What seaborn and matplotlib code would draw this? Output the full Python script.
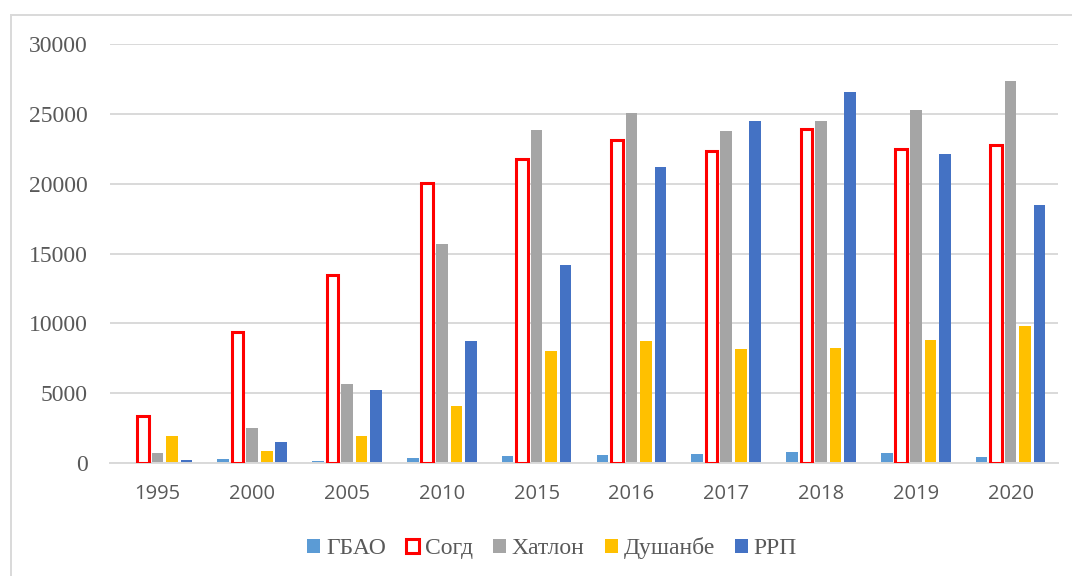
import pandas as pd
import matplotlib
matplotlib.use("Agg")
import matplotlib.pyplot as plt
import seaborn as sns
from matplotlib.patches import Rectangle

# DATA
years = ["1995", "2000", "2005", "2010", "2015", "2016", "2017", "2018", "2019", "2020"]
regions = ["ГБАО", "Согд", "Хатлон", "Душанбе", "РРП"]
gbao = [0, 310, 170, 360, 480, 570, 670, 790, 715, 430]
sogd = [3330, 9350, 13470, 20030, 21770, 23140, 22350, 23920, 22490, 22800]
khatlon = [720, 2490, 5650, 15680, 23830, 25050, 23800, 24520, 25280, 27330]
dushanbe = [1960, 860, 1940, 4060, 8030, 8720, 8170, 8250, 8780, 9800]
rrp = [190, 1530, 5220, 8720, 14170, 21180, 24500, 26540, 22100, 18500]

colors = ["#5B9BD5", "#FFFFFF", "#A5A5A5", "#FFC000", "#4472C4"]

rows = []
for name, vals in zip(regions, [gbao, sogd, khatlon, dushanbe, rrp]):
    for y, v in zip(years, vals):
        rows.append({"year": y, "region": name, "value": v})
df = pd.DataFrame(rows)

sns.set_theme(style="white")
plt.rcParams["font.family"] = ["Liberation Serif", "DejaVu Serif"]

fig = plt.figure(figsize=(10.72, 5.76), dpi=100)
ax = fig.add_axes([110 / 1072, 1 - 463 / 576, 948 / 1072, 419 / 576])

sns.barplot(data=df, x="year", y="value", hue="region", hue_order=regions,
            order=years, palette=colors, saturation=1, width=0.765, gap=0.2,
            linewidth=0, ax=ax)

# Согд: hollow bars with a red outline
for bar in ax.containers[1]:
    bar.set_facecolor("white")
    bar.set_edgecolor("#FF0000")
    bar.set_linewidth(2.2)
    bar.set_zorder(3)

ax.set_ylim(0, 30000)
ax.set_xlim(-0.5, 9.5)
ax.set_yticks(range(0, 30001, 5000))
ax.yaxis.grid(True, color="#D9D9D9", linewidth=1.4)
ax.set_axisbelow(True)
for s in ["left", "right", "top"]:
    ax.spines[s].set_visible(False)
ax.spines["bottom"].set_color("#D9D9D9")
ax.spines["bottom"].set_linewidth(1.4)
ax.set_xlabel("")
ax.set_ylabel("")
ax.tick_params(axis="both", length=0)
ax.tick_params(axis="y", labelsize=17, labelcolor="#595959", pad=16)
for lbl in ax.get_xticklabels():
    lbl.set_family(["Open Sans", "DejaVu Sans"])
    lbl.set_fontsize(14.5)
    lbl.set_color("#595959")
ax.tick_params(axis="x", pad=15)

# legend at the bottom
sns.move_legend(ax, "center", bbox_to_anchor=(552 / 1072, 1 - 548 / 576),
                bbox_transform=fig.transFigure, ncol=5, frameon=False,
                title=None, fontsize=17, handlelength=0.55, handleheight=0.55,
                handletextpad=0.25, columnspacing=0.85, labelcolor="#595959")
leg = ax.get_legend()
h = leg.legend_handles[1]
h.set_facecolor("white")
h.set_edgecolor("#FF0000")
h.set_linewidth(2.2)

# outer chart frame
fig.add_artist(Rectangle((11 / 1072, -0.1), 1.2, 1 - 15 / 576 + 0.1,
                         transform=fig.transFigure, fill=False,
                         edgecolor="#D9D9D9", linewidth=1.4))

fig.savefig("out.png", dpi=100)
